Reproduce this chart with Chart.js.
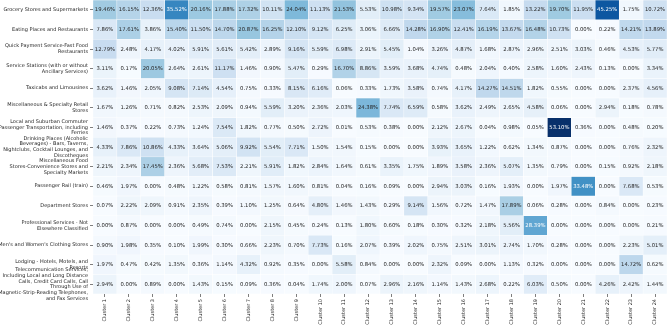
<!DOCTYPE html>
<html>
<head>
<meta charset="utf-8">
<script src="https://cdn.jsdelivr.net/npm/chart.js@4/dist/chart.umd.min.js"></script>
<style>
  html, body { margin: 0; padding: 0; background: #fff; }
  #wrap { width: 669px; height: 327px; }
</style>
</head>
<body>
<div id="wrap"><canvas id="heat"></canvas></div>
<script>
var clusters = ["Cluster 1", "Cluster 2", "Cluster 3", "Cluster 4", "Cluster 5", "Cluster 6",
  "Cluster 7", "Cluster 8", "Cluster 9", "Cluster 10", "Cluster 11", "Cluster 12",
  "Cluster 13", "Cluster 14", "Cluster 15", "Cluster 16", "Cluster 17", "Cluster 18",
  "Cluster 19", "Cluster 20", "Cluster 21", "Cluster 22", "Cluster 23", "Cluster 24"];

var rowLabels = [
  "Grocery Stores and Supermarkets",
  "Eating Places and Restaurants",
  ["Quick Payment Service-Fast Food", "Restaurants"],
  ["Service Stations (with or without", "Ancillary Services)"],
  "Taxicabs and Limousines",
  ["Miscellaneous & Specialty Retail", "Stores"],
  ["Local and Suburban Commuter", "Passenger Transportation, including", "Ferries"],
  ["Drinking Places (Alcoholic", "Beverages) - Bars, Taverns,", "Nightclubs, Cocktail Lounges, and", "Discotheques"],
  ["Miscellaneous Food", "Stores-Convenience Stores and", "Specialty Markets"],
  "Passenger Rail (train)",
  "Department Stores",
  ["Professional Services - Not", "Elsewhere Classified"],
  "Men's and Women's Clothing Stores",
  ["Lodging - Hotels, Motels, and", "Resorts"],
  ["Telecommunication Services,", "Including Local and Long Distance", "Calls, Credit Card Calls, Call", "Through Use of", "Magnetic-Strip-Reading Telephones,", "and Fax Services"]
];

// share of spend (%) per category, one array per row
var grocery      = [19.46, 16.15, 12.36, 35.52, 20.16, 17.88, 17.32, 10.11, 24.04, 11.13, 21.53, 5.53, 10.98, 9.34, 19.57, 23.07, 7.64, 1.85, 13.22, 19.70, 11.95, 45.25, 1.75, 10.72];
var eating       = [7.86, 17.61, 3.86, 15.40, 11.50, 14.70, 20.87, 16.25, 12.10, 9.12, 6.25, 3.06, 6.66, 14.28, 16.90, 12.41, 16.19, 13.67, 16.48, 10.73, 0.00, 0.22, 14.21, 13.89];
var fastFood     = [12.79, 2.48, 4.17, 4.02, 5.91, 5.61, 5.42, 2.89, 9.16, 5.59, 6.98, 2.91, 5.45, 1.04, 3.26, 4.87, 1.68, 2.87, 2.96, 2.51, 3.03, 0.46, 4.53, 5.77];
var stations     = [3.11, 0.17, 20.05, 2.64, 2.61, 11.17, 1.46, 0.90, 5.47, 0.29, 16.70, 8.86, 3.59, 3.68, 4.74, 0.48, 2.04, 0.40, 2.58, 1.60, 2.43, 0.13, 0.00, 3.34];
var taxis        = [3.62, 1.46, 2.05, 9.08, 7.14, 4.54, 0.75, 0.33, 8.15, 6.16, 0.06, 0.33, 1.73, 3.58, 0.74, 4.17, 14.27, 14.51, 1.82, 0.55, 0.00, 0.00, 2.37, 4.56];
var specialty    = [1.67, 1.26, 0.71, 0.82, 2.53, 2.09, 0.94, 5.59, 3.20, 2.36, 2.03, 24.38, 7.74, 6.59, 0.58, 3.62, 2.49, 2.65, 4.58, 0.06, 0.00, 2.94, 0.18, 0.78];
var commuter     = [1.46, 0.37, 0.22, 0.73, 1.24, 7.54, 1.82, 0.77, 0.50, 2.72, 0.01, 0.53, 0.38, 0.00, 2.12, 2.67, 0.04, 0.98, 0.05, 53.10, 0.36, 0.00, 0.48, 0.20];
var drinking     = [4.33, 7.86, 10.86, 4.33, 3.64, 5.06, 9.92, 5.54, 7.71, 1.50, 1.54, 0.15, 0.00, 0.00, 3.93, 3.65, 1.22, 0.62, 1.34, 0.87, 0.00, 0.00, 0.76, 2.32];
var convenience  = [2.21, 2.34, 17.45, 2.36, 5.68, 7.53, 2.21, 5.91, 1.82, 2.84, 1.64, 0.61, 3.35, 1.75, 1.89, 3.58, 2.36, 5.07, 1.35, 0.79, 0.00, 0.15, 0.92, 2.18];
var rail         = [0.46, 1.97, 0.00, 0.48, 1.22, 0.58, 0.81, 1.57, 1.60, 0.81, 0.04, 0.16, 0.09, 0.00, 2.94, 3.03, 0.16, 1.93, 0.00, 1.97, 33.48, 0.00, 7.68, 0.53];
var department   = [0.07, 2.22, 2.09, 0.91, 2.35, 0.39, 1.10, 1.25, 0.64, 4.80, 1.46, 1.43, 0.29, 9.14, 1.56, 0.72, 1.47, 17.89, 0.06, 0.28, 0.00, 0.84, 0.00, 0.23];
var professional = [0.00, 0.87, 0.00, 0.00, 0.49, 0.74, 0.00, 2.15, 0.45, 0.24, 0.13, 1.80, 0.60, 0.18, 0.30, 0.32, 2.18, 5.56, 28.39, 0.00, 0.00, 0.00, 0.00, 0.21];
var clothing     = [0.90, 1.98, 0.35, 0.10, 1.99, 0.30, 0.66, 2.23, 0.70, 7.73, 0.16, 2.07, 0.39, 2.02, 0.75, 2.51, 3.01, 2.74, 1.70, 0.28, 0.00, 0.00, 2.23, 5.01];
var lodging      = [1.97, 0.47, 0.42, 1.35, 0.36, 1.14, 4.32, 0.92, 0.35, 0.00, 5.58, 0.84, 0.00, 0.00, 2.32, 0.09, 0.00, 1.13, 0.32, 0.00, 0.00, 0.00, 14.72, 0.62];
var telecom      = [2.94, 0.00, 0.89, 0.00, 1.43, 0.15, 0.09, 0.36, 0.04, 1.74, 2.00, 0.07, 2.96, 2.16, 1.14, 1.43, 2.68, 0.22, 6.03, 0.50, 0.00, 4.26, 2.42, 1.44];

var shares = [grocery, eating, fastFood, stations, taxis, specialty, commuter, drinking,
  convenience, rail, department, professional, clothing, lodging, telecom];

var vmax = Math.max.apply(null, shares.map(function (r) { return Math.max.apply(null, r); }));

// matplotlib "Blues"
var blues = [[247,251,255],[222,235,247],[198,219,239],[158,202,225],[107,174,214],
  [66,146,198],[33,113,181],[8,81,156],[8,48,107]];

function blueRgb(v) {
  var t = Math.min(Math.max(v / vmax, 0), 1) * (blues.length - 1);
  var i = Math.min(Math.floor(t), blues.length - 2), f = t - i;
  return blues[i].map(function (c, k) { return c + (blues[i + 1][k] - c) * f; });
}
function blueColor(v) {
  var c = blueRgb(v);
  return 'rgb(' + c.map(Math.round).join(',') + ')';
}
function textColor(v) {
  var lin = blueRgb(v).map(function (c) {
    c = c / 255;
    return c <= 0.03928 ? c / 12.92 : Math.pow((c + 0.055) / 1.055, 2.4);
  });
  var lum = 0.2126 * lin[0] + 0.7152 * lin[1] + 0.0722 * lin[2];
  return lum > 0.408 ? '#262626' : '#ffffff';
}

var cellLabels = {
  id: 'cellLabels',
  afterDatasetsDraw: function (chart) {
    var ctx = chart.ctx;
    ctx.save();
    ctx.font = '5.3px "DejaVu Sans"';
    ctx.textAlign = 'center';
    ctx.textBaseline = 'middle';
    shares.forEach(function (row, r) {
      chart.getDatasetMeta(r).data.forEach(function (bar, c) {
        ctx.fillStyle = textColor(row[c]);
        ctx.fillText(row[c].toFixed(2) + '%', bar.x, (bar.y + bar.base) / 2 + 0.3);
      });
    });
    ctx.restore();
  }
};

var datasets = shares.map(function (row, r) {
  return {
    data: clusters.map(function () { return [r - 0.5, r + 0.5]; }),
    backgroundColor: row.map(blueColor),
    borderColor: '#ffffff',
    borderWidth: 0.5,
    borderSkipped: false,
    grouped: false,
    barPercentage: 1,
    categoryPercentage: 1
  };
});

Chart.defaults.font.family = '"DejaVu Sans"';
Chart.defaults.color = '#262626';

new Chart(document.getElementById('heat'), {
  type: 'bar',
  data: { labels: clusters, datasets: datasets },
  plugins: [cellLabels],
  options: {
    responsive: true,
    maintainAspectRatio: false,
    animation: false,
    layout: { padding: { top: 0, right: 2, bottom: 0, left: 0 } },
    plugins: { legend: { display: false }, tooltip: { enabled: false } },
    scales: {
      x: {
        type: 'category',
        border: { display: false },
        grid: { offset: false, drawOnChartArea: false, tickLength: 3, color: '#262626', lineWidth: 0.6 },
        ticks: { minRotation: 90, maxRotation: 90, autoSkip: false, padding: 2, font: { size: 5 } },
        afterFit: function (s) { s.height = 33; s.paddingLeft = 0; s.paddingRight = 0; }
      },
      y: {
        type: 'linear',
        min: -0.5,
        max: 14.5,
        reverse: true,
        border: { display: false },
        grid: { drawOnChartArea: false, tickLength: 3, color: '#262626', lineWidth: 0.6 },
        afterBuildTicks: function (s) {
          s.ticks = rowLabels.map(function (l, i) { return { value: i }; });
        },
        ticks: {
          autoSkip: false,
          padding: 2,
          font: { size: 5, lineHeight: 1.15 },
          callback: function (v) { return rowLabels[v]; }
        },
        afterFit: function (s) { s.width = 93; s.paddingTop = 0; s.paddingBottom = 0; }
      }
    }
  }
});
</script>
</body>
</html>
